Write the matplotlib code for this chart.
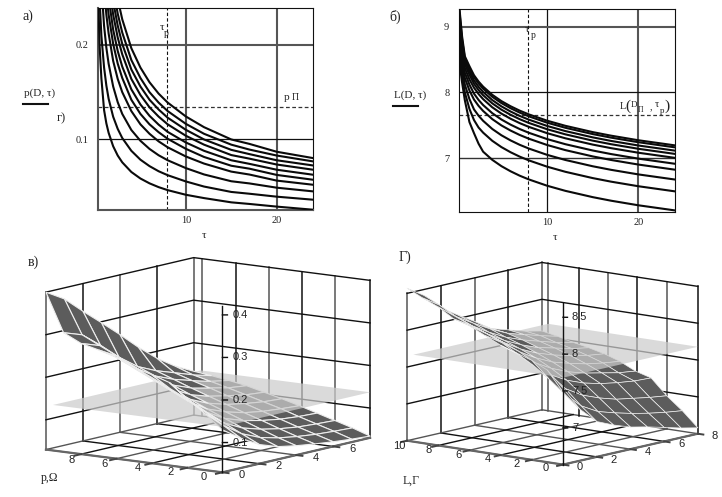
import matplotlib
matplotlib.use("Agg")
import matplotlib.pyplot as plt
import numpy as np
from mpl_toolkits.mplot3d.art3d import Poly3DCollection
from mpl_toolkits.mplot3d import proj3d

plt.rcParams['font.family'] = ['Liberation Serif', 'DejaVu Serif']

# panel a: p(D, tau), one row per tau, one column per curve (top curve first)
tau_a = [0.33, 0.5, 0.7, 1, 1.25, 1.5, 2, 2.5, 3, 4, 5, 6, 7, 8, 10, 12, 15, 17, 20, 24]
p_curves = [
    [.684, .64, .606, .571, .532, .495, .451, .383, .306, .26],
    [.556, .521, .493, .465, .433, .403, .367, .312, .249, .20],
    [.47, .44, .416, .393, .366, .34, .31, .263, .21, .165],
    [.393, .368, .348, .328, .306, .285, .259, .22, .176, .131],
    [.352, .33, .312, .294, .274, .255, .232, .197, .157, .117],
    [.32, .30, .284, .268, .25, .232, .212, .18, .143, .107],
    [.278, .26, .246, .232, .216, .201, .183, .156, .124, .0928],
    [.2486, .233, .2204, .2078, .1936, .1802, .164, .1394, .1112, .083],
    [.227, .213, .201, .19, .177, .165, .15, .127, .1015, .0758],
    [.1965, .184, .174, .164, .153, .142, .13, .11, .088, .0656],
    [.176, .165, .156, .147, .137, .127, .116, .0986, .0786, .0587],
    [.1605, .15, .142, .134, .125, .116, .106, .09, .0718, .0536],
    [.1485, .139, .1317, .1242, .1157, .1077, .098, .0833, .0664, .0496],
    [.139, .13, .123, .116, .108, .1007, .0917, .078, .0622, .0464],
    [.1243, .1165, .1102, .1039, .0968, .0901, .082, .0697, .0556, .0415],
    [.113, .106, .10, .0945, .088, .0815, .0745, .063, .0502, .038],
    [.10, .0945, .089, .0835, .078, .0722, .066, .0558, .0445, .0335],
    [.0953, .0893, .0845, .0797, .0742, .0691, .0629, .0535, .0426, .0318],
    [.087, .083, .078, .0735, .068, .0625, .0565, .049, .0395, .029],
    [.0803, .0768, .0725, .068, .0627, .0574, .0521, .0451, .0363, .0257],
]

# panel b: L(D, tau)
tau_b = [0.36, 0.7, 1, 1.5, 2, 2.5, 3, 4, 5, 6, 7, 8, 10, 12, 15, 17, 20, 24]
L_curves = [
    [9.35, 9.3, 9.2, 9.1, 9.0, 8.92, 8.85, 8.75, 8.65, 8.5],
    [8.85, 8.8, 8.75, 8.68, 8.6, 8.52, 8.44, 8.35, 8.25, 8.15],
    [8.55, 8.52, 8.48, 8.43, 8.37, 8.3, 8.22, 8.12, 8.0, 7.88],
    [8.4, 8.37, 8.32, 8.27, 8.2, 8.12, 8.03, 7.9, 7.75, 7.55],
    [8.262, 8.232, 8.182, 8.132, 8.072, 7.982, 7.892, 7.742, 7.58, 7.38],
    [8.166, 8.136, 8.086, 8.036, 7.976, 7.886, 7.796, 7.646, 7.466, 7.22],
    [8.088, 8.058, 8.008, 7.958, 7.898, 7.808, 7.718, 7.568, 7.388, 7.098],
    [7.964, 7.934, 7.884, 7.834, 7.774, 7.684, 7.594, 7.444, 7.264, 6.974],
    [7.868, 7.838, 7.788, 7.738, 7.678, 7.588, 7.498, 7.348, 7.168, 6.878],
    [7.79, 7.76, 7.71, 7.66, 7.6, 7.51, 7.42, 7.27, 7.09, 6.8],
    [7.723, 7.693, 7.643, 7.593, 7.533, 7.443, 7.353, 7.203, 7.023, 6.733],
    [7.666, 7.636, 7.586, 7.536, 7.476, 7.386, 7.296, 7.146, 6.966, 6.676],
    [7.57, 7.54, 7.49, 7.44, 7.38, 7.29, 7.2, 7.05, 6.87, 6.58],
    [7.492, 7.462, 7.412, 7.362, 7.302, 7.212, 7.122, 6.972, 6.792, 6.502],
    [7.396, 7.366, 7.316, 7.266, 7.206, 7.116, 7.026, 6.876, 6.696, 6.406],
    [7.342, 7.312, 7.262, 7.212, 7.152, 7.062, 6.972, 6.822, 6.642, 6.352],
    [7.272, 7.242, 7.192, 7.142, 7.082, 6.992, 6.902, 6.752, 6.572, 6.282],
    [7.194, 7.164, 7.114, 7.064, 7.004, 6.914, 6.824, 6.674, 6.494, 6.204],
]

# surfaces: one row per y (0..10), one column per x (0..8)
surf_v = [
    [.13, .10, .075, .06, .052, .046, .041, .037, .034],
    [.163, .125, .095, .076, .065, .058, .053, .05, .048],
    [.192, .15, .115, .093, .08, .071, .065, .062, .06],
    [.225, .175, .135, .11, .095, .085, .078, .074, .072],
    [.238, .195, .155, .127, .11, .098, .091, .087, .084],
    [.25, .215, .175, .145, .125, .112, .104, .098, .095],
    [.268, .235, .195, .163, .14, .126, .117, .109, .105],
    [.28, .255, .215, .18, .157, .14, .13, .12, .115],
    [.29, .275, .235, .2, .173, .155, .142, .13, .122],
    [.31, .295, .26, .222, .19, .17, .155, .14, .128],
    [.40, .374, .335, .298, .26, .22, .184, .155, .133],
]
surf_g = [
    [7.54, 7.2, 6.98, 6.88, 6.8, 6.75, 6.69, 6.63, 6.58],
    [7.75, 7.38, 7.16, 7.03, 6.96, 6.9, 6.85, 6.81, 6.78],
    [7.85, 7.55, 7.36, 7.22, 7.13, 7.06, 7.02, 6.98, 6.95],
    [7.92, 7.7, 7.52, 7.39, 7.3, 7.24, 7.2, 7.17, 7.16],
    [7.99, 7.82, 7.65, 7.52, 7.42, 7.35, 7.3, 7.25, 7.22],
    [8.09, 7.94, 7.77, 7.63, 7.52, 7.45, 7.39, 7.35, 7.32],
    [8.19, 8.03, 7.86, 7.72, 7.61, 7.53, 7.47, 7.42, 7.39],
    [8.25, 8.11, 7.94, 7.8, 7.69, 7.6, 7.54, 7.48, 7.44],
    [8.38, 8.2, 8.02, 7.88, 7.76, 7.67, 7.6, 7.53, 7.48],
    [8.47, 8.32, 8.11, 7.97, 7.84, 7.73, 7.66, 7.59, 7.53],
    [8.57, 8.42, 8.2, 8.05, 7.91, 7.76, 7.69, 7.62, 7.57],
]
surf_x = [0, 1, 2, 3, 4, 5, 6, 7, 8]
surf_y = [0, 1, 2, 3, 4, 5, 6, 7, 8, 9, 10]

W, H = 722, 497
DARK = '#111111'
GRAY = '#555555'

fig = plt.figure(figsize=(W / 100, H / 100), dpi=100)


def px_axes(left, top, right, bottom, **kw):
    return fig.add_axes([left / W, 1 - bottom / H, (right - left) / W, (bottom - top) / H], **kw)


def curves_panel(box, tau, rows, xlim, ylim, vgrid, hgrid, ylabels, frame_gray):
    ax = px_axes(*box)
    for x, c, lw in vgrid:
        ax.axvline(x, color=c, lw=lw, zorder=1)
    for y, c, lw in hgrid:
        ax.axhline(y, color=c, lw=lw, zorder=1)
    ax.plot(tau, rows, color='#0a0a0a', lw=1.5, zorder=3)
    ax.set_xlim(*xlim)
    ax.set_ylim(*ylim)
    ax.set_xticks([10, 20])
    ax.set_yticks(ylabels)
    ax.tick_params(length=0, labelsize=7.5, colors='#222222')
    ax.tick_params(axis='y', pad=7)
    ax.tick_params(axis='x', pad=4)
    for name, sp in ax.spines.items():
        if name in frame_gray:
            sp.set_color(GRAY)
            sp.set_linewidth(1.5)
        else:
            sp.set_color(DARK)
            sp.set_linewidth(0.8)
    return ax


# top left
ax = curves_panel((98, 8, 313, 210), tau_a, p_curves, (0.33, 24), (0.0254, 0.239),
                  [(10, GRAY, 1.5), (20, GRAY, 1.5)],
                  [(0.2, GRAY, 1.5), (0.1, DARK, 0.9)], [0.1, 0.2], ['left', 'bottom'])
ax.set_yticklabels(['0.1', '0.2'])
ax.axvline(7.9, color=DARK, lw=0.8, ls=(0, (3, 2)), zorder=2)
ax.axhline(0.1348, color='#333333', lw=0.9, ls=(0, (3, 2)), zorder=2)

# top right
ax = curves_panel((459, 9, 675, 212), tau_b, L_curves, (0.36, 24), (6.18, 9.27),
                  [(10, DARK, 0.9), (20, GRAY, 1.5)],
                  [(9, GRAY, 1.5), (8, DARK, 0.9), (7, '#333333', 1.0)], [7, 8, 9], [])
ax.axvline(7.95, color=DARK, lw=0.8, ls=(0, (3, 2)), zorder=2)
ax.axhline(7.65, color='#333333', lw=0.9, ls=(0, (3, 2)), zorder=2)


def label(x, y, s, size=7, **kw):
    fig.text(x / W, 1 - y / H, s, fontsize=size, ha='center', va='center', color='#222222', **kw)


label(28, 16, 'а)', 10)
label(395, 17, 'б)', 10)
label(33, 262, 'в)', 10)
label(405, 257, 'Г)', 10)
label(61, 118, 'г)', 9)
label(40, 93, 'p(D, τ)', 8)
label(410, 95, 'L(D, τ)', 8)
label(204, 236, 'τ', 8)
label(555, 238, 'τ', 8)
label(162, 27, 'τ', 8)
label(166, 33, 'p', 7)
label(527, 29, 'τ', 8)
label(533, 35, 'p', 7)
label(287, 97, 'p', 8)
label(295, 98, 'П', 7)
label(623, 106, 'L', 7.5)
label(628, 106, '(', 11)
label(634, 105, 'D', 6.5)
label(641, 110, 'П', 5.5)
label(651, 107, ',', 7)
label(657, 105, 'τ', 7.5)
label(662, 111, 'p', 6.5)
label(667, 106, ')', 11)
label(50, 478, 'p,Ω', 8.5)
label(411, 481, 'L,Γ', 8.5)
fig.add_artist(plt.Line2D([23 / W, 48 / W], [1 - 104 / H] * 2, color=DARK, lw=1.5))
fig.add_artist(plt.Line2D([393 / W, 418 / W], [1 - 106 / H] * 2, color=DARK, lw=1.5))


def surface_panel(left, bottom, size, elev, azim, aspect, zlim, ztop, z_ticks, z_text,
                  zvals, plane_z, plane_y, wall_y, x_text, y_text, edge_lw):
    ax = fig.add_axes([left / W, 1 - bottom / H, size / W, size / H], projection='3d',
                      computed_zorder=False)
    ax.set_axis_off()
    ax.set_xticks([])
    ax.set_yticks([])
    ax.set_zticks([])
    ax.patch.set_alpha(0)
    ax.view_init(elev=elev, azim=azim)
    ax.set_proj_type('ortho')
    ax.set_box_aspect(aspect)
    z0, z1 = zlim
    xm, ym = 8, 10
    x_grid = [0, 2, 4, 6, 8]
    y_grid = [0, 2, 4, 6, 8, 10]

    # walls and floor
    for i, x in enumerate(x_grid):
        c = DARK if i % 2 else GRAY
        ax.plot([x, x], [ym, ym], [z0, z1], color=c, lw=1.1, zorder=1)
        ax.plot([x, x], [0, ym], [z0, z0], color=c, lw=1.0, zorder=1)
    for i, y in enumerate(wall_y):
        c = GRAY if i % 2 else DARK
        ax.plot([xm, xm], [y, y], [z0, z1], color=c, lw=1.1, zorder=1)
    for i, y in enumerate(y_grid):
        c = GRAY if i % 2 else DARK
        ax.plot([0, xm], [y, y], [z0, z0], color=c, lw=1.0, zorder=1)
    for z in z_ticks:
        ax.plot([0, xm, xm], [ym, ym, 0], [z, z, z], color=DARK, lw=1.0, zorder=1)
    ax.plot([0, xm], [0, 0], [z0, z0], color='#666666', lw=1.6, zorder=2)
    ax.plot([0, 0], [0, ym], [z0, z0], color='#666666', lw=1.6, zorder=2)

    # surface cut in two around the transparent plane
    below, above = [], []
    for j in range(len(surf_y) - 1):
        for i in range(len(surf_x) - 1):
            q = [(surf_x[i], surf_y[j], zvals[j][i]),
                 (surf_x[i + 1], surf_y[j], zvals[j][i + 1]),
                 (surf_x[i + 1], surf_y[j + 1], zvals[j + 1][i + 1]),
                 (surf_x[i], surf_y[j + 1], zvals[j + 1][i])]
            if np.mean([p[2] for p in q]) < plane_z:
                below.append(q)
            else:
                above.append(q)
    for quads, zo in ((below, 3), (above, 5)):
        col = Poly3DCollection(quads, facecolors='#5c5c5c', edgecolors='#eeeeee', linewidths=edge_lw)
        col.set_zorder(zo)
        ax.add_collection3d(col)
    plane = Poly3DCollection([[(0, 0, plane_z), (xm, 0, plane_z), (xm, plane_y, plane_z), (0, plane_y, plane_z)]],
                             facecolors=(0.80, 0.80, 0.80, 0.72), edgecolors='none')
    plane.set_zorder(4)
    ax.add_collection3d(plane)

    # front z axis and the small tick marks
    ax.plot([0, 0], [0, 0], [z0, ztop], color=DARK, lw=1.0, zorder=6)
    for z in z_ticks:
        ax.plot([0, 0.1], [0, -0.18], [z, z], color=DARK, lw=1.0, zorder=6)
    for x in x_text:
        ax.plot([x, x], [0, -0.35], [z0, z0], color='#444444', lw=1.4, zorder=2)
    for y in y_text:
        ax.plot([0, -0.35], [y, y], [z0, z0], color='#444444', lw=1.4, zorder=2)

    ax.set_xlim(0, xm, view_margin=0)
    ax.set_ylim(0, ym, view_margin=0)
    ax.set_zlim(z0, z1, view_margin=0)

    # numbers go in as 2d text at the projected place
    M = ax.get_proj()

    def num(x, y, z, s, ha):
        px, py, _ = proj3d.proj_transform(x, y, z, M)
        ax.text2D(px, py, s, transform=ax.transData, fontsize=8, family='Liberation Sans',
                  ha=ha, va='center', color='#222222', zorder=7)

    for z, s in zip(z_ticks, z_text):
        num(0.2, -0.36, z, s, 'left')
    for x in x_text:
        num(x, -1.1, z0, str(x), 'center')
    for y in y_text:
        num(-1, y * 0.94, z0, str(y), 'center')
    return ax


surface_panel(24.7, 548.3, 357, 10, -143.4, (248, 220, 160), (0.03, 0.4), 0.42,
              [0.1, 0.2, 0.3, 0.4], ['0.1', '0.2', '0.3', '0.4'],
              surf_v, 0.137, 9.6, [0, 2, 3.86, 5.74, 7.6, 9.55], [0, 2, 4, 6], [0, 2, 4, 6, 8], 0.8)
surface_panel(388.3, 527.7, 319.7, 10.8, -140.7, (213, 201.5, 150), (6.5, 8.5), 8.7,
              [7, 7.5, 8, 8.5], ['7', '7.5', '8', '8.5'],
              surf_g, 7.68, 9.6, [0, 2, 3.9, 5.75, 7.6, 9.6], [0, 2, 4, 6, 8], [0, 2, 4, 6, 8, 10], 0.5)

fig.savefig('out.png', dpi=100)
